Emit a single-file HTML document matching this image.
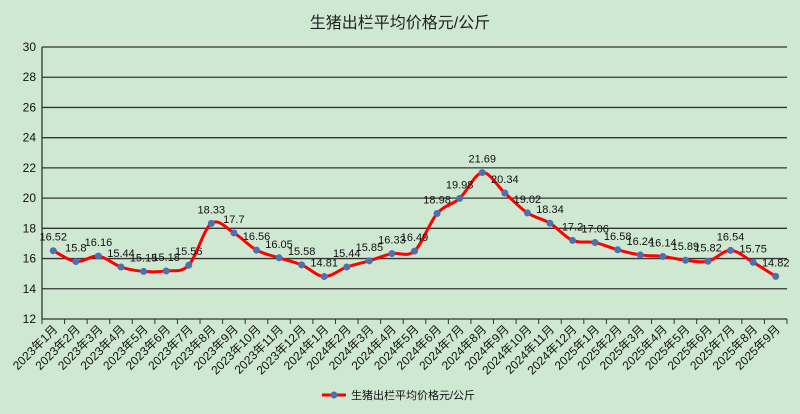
<!DOCTYPE html>
<html><head><meta charset="utf-8"><style>
html,body{margin:0;padding:0;background:#cfe8d1;}
svg{display:block;font-family:"Liberation Sans","Noto Sans CJK SC",sans-serif;}
</style></head><body>
<svg id="c" width="800" height="414" xmlns="http://www.w3.org/2000/svg">
<rect width="800" height="414" fill="#cfe8d1"/>
<text x="400" y="28" text-anchor="middle" font-size="16" fill="#222">生猪出栏平均价格元/公斤</text>
<g id="g"></g>
<line x1="322" y1="395" x2="346" y2="395" stroke="#ff0000" stroke-width="3"/>
<circle cx="334" cy="395" r="3.5" fill="#4a72b0"/>
<text x="351" y="399" font-size="11" fill="#111">生猪出栏平均价格元/公斤</text>
</svg>
<script>
const d=[16.52,15.8,16.16,15.44,15.15,15.18,15.56,18.33,17.7,16.56,16.05,15.58,14.81,15.44,15.85,16.33,16.49,18.98,19.98,21.69,20.34,19.02,18.34,17.2,17.06,16.58,16.24,16.14,15.89,15.82,16.54,15.75,14.82];
const L=42,R=787,T=47,B=319,n=d.length,w=(R-L)/n;
const X=i=>L+w*(i+0.5),Y=v=>B-(v-12)*(B-T)/18;
let s='';
for(let v=14;v<=30;v+=2){s+=`<line x1="${L}" x2="${R}" y1="${Y(v)}" y2="${Y(v)}" stroke="#333" stroke-width="1.3"/>`;}
for(let v=12;v<=30;v+=2){s+=`<text x="${L-6}" y="${Y(v)+4}" text-anchor="end" font-size="12" fill="#111">${v}</text>`;}
s+=`<line x1="${L}" x2="${L}" y1="${T}" y2="${B}" stroke="#333" stroke-width="1.3"/><line x1="${L}" x2="${R}" y1="${B}" y2="${B}" stroke="#333" stroke-width="1.3"/>`;
for(let i=0;i<=n;i++){const x=L+w*i;s+=`<line x1="${x}" x2="${x}" y1="${B}" y2="${B+5}" stroke="#333"/>`;}
const labs=[];for(let y=2023;y<=2025;y++)for(let m=1;m<=12;m++)labs.push(y+'年'+m+'月');
for(let i=0;i<n;i++){const x=X(i)+5,y=B+11;s+=`<text x="${x}" y="${y}" text-anchor="end" font-size="12" fill="#111" transform="rotate(-45 ${x} ${y})">${labs[i]}</text>`;}
const p=d.map((v,i)=>[X(i),Y(v)]);
let path=`M${p[0][0]},${p[0][1]}`;
for(let i=0;i<n-1;i++){const p0=p[i-1]||p[i],p1=p[i],p2=p[i+1],p3=p[i+2]||p2;const t=6;
path+=` C${p1[0]+(p2[0]-p0[0])/t},${p1[1]+(p2[1]-p0[1])/t} ${p2[0]-(p3[0]-p1[0])/t},${p2[1]-(p3[1]-p1[1])/t} ${p2[0]},${p2[1]}`;}
s+=`<path d="${path}" fill="none" stroke="#ff0000" stroke-width="3"/>`;
p.forEach((q,i)=>{s+=`<circle cx="${q[0]}" cy="${q[1]}" r="3.5" fill="#4a72b0"/>`;s+=`<text x="${q[0]}" y="${q[1]-10}" text-anchor="middle" font-size="11" fill="#111">${d[i]}</text>`;});
document.getElementById('g').innerHTML=s;
</script>
</body></html>
